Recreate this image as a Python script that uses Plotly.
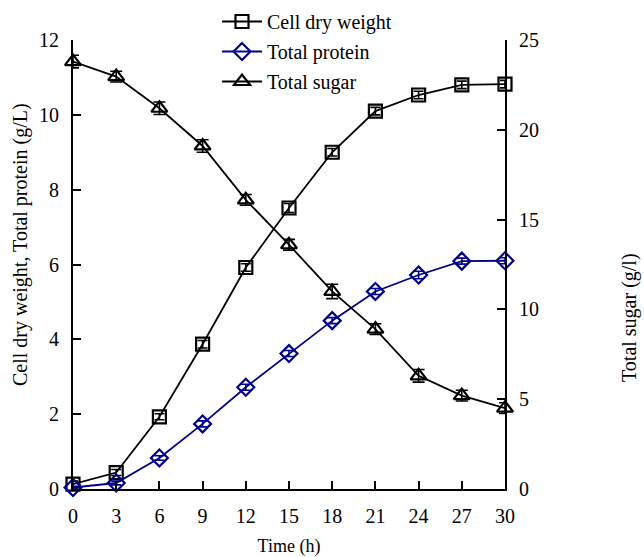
import plotly.graph_objects as go

time_h = [0, 3, 6, 9, 12, 15, 18, 21, 24, 27, 30]
cell_dry_weight = [0.13, 0.44, 1.93, 3.87, 5.92, 7.51, 9.0, 10.1, 10.53, 10.8, 10.82]
total_protein = [0.04, 0.16, 0.83, 1.74, 2.72, 3.62, 4.5, 5.28, 5.72, 6.09, 6.1]
total_sugar = [23.8, 22.96, 21.2, 19.1, 16.1, 13.6, 11.0, 8.9, 6.3, 5.2, 4.5]
cdw_err = [0.08, 0.08, 0.08, 0.1, 0.1, 0.12, 0.1, 0.1, 0.1, 0.1, 0.1]
protein_err = [0.03, 0.05, 0.06, 0.08, 0.08, 0.08, 0.08, 0.08, 0.1, 0.08, 0.08]
sugar_err = [0.35, 0.3, 0.35, 0.35, 0.3, 0.3, 0.4, 0.3, 0.35, 0.3, 0.3]

x_ticks = list(range(0, 31, 3))

font_family = "Liberation Serif, Times New Roman, serif"
navy = "#00008B"

W, H = 644, 557
L, R, T, B = 73, 139, 40, 68
PW, PH = W - L - R, H - T - B

fig = go.Figure()
fig.add_trace(go.Scatter(
    x=time_h, y=cell_dry_weight, name="Cell dry weight", mode="lines+markers",
    line=dict(color="black", width=1.8),
    marker=dict(symbol="square-open", size=13, color="black", line=dict(width=2.2)),
    error_y=dict(type="data", array=cdw_err, color="black", thickness=1.6, width=5),
    cliponaxis=False, legendgroup="a",
))
fig.add_trace(go.Scatter(
    x=time_h, y=total_protein, name="Total protein", mode="lines+markers",
    line=dict(color=navy, width=1.8),
    marker=dict(symbol="diamond-open", size=13, color=navy, line=dict(width=2.2)),
    error_y=dict(type="data", array=protein_err, color=navy, thickness=1.6, width=5),
    cliponaxis=False, legendgroup="b",
))
fig.add_trace(go.Scatter(
    x=time_h, y=total_sugar, name="Total sugar", mode="lines+markers", yaxis="y2",
    line=dict(color="black", width=1.8),
    marker=dict(symbol="triangle-up-open", size=14, color="black", line=dict(width=2.2)),
    error_y=dict(type="data", array=sugar_err, color="black", thickness=1.6, width=6),
    cliponaxis=False, legendgroup="c",
))

axis_common = dict(showgrid=False, zeroline=False, showline=True, linecolor="black",
                   linewidth=2, ticks="inside", ticklen=8, tickwidth=2, tickcolor="black",
                   automargin=False,
                   tickfont=dict(family=font_family, size=20, color="black"))

fig.update_layout(
    width=W, height=H,
    margin=dict(l=L, r=R, t=T, b=B, autoexpand=False),
    paper_bgcolor="white", plot_bgcolor="white",
    font=dict(family=font_family, color="black"),
    xaxis=dict(range=[0, 30], tickvals=x_ticks, ticktext=[str(v) for v in x_ticks],
               ticklabelstandoff=8,
               title=dict(text="Time (h)", font=dict(size=18), standoff=24), **axis_common),
    yaxis=dict(range=[0, 12], dtick=2, ticklabelstandoff=8, **axis_common),
    yaxis2=dict(range=[0, 25], dtick=5, overlaying="y", side="right", ticklabelstandoff=8,
                **axis_common),
    annotations=[
        dict(text="Cell dry weight, Total protein (g/L)", textangle=-90, showarrow=False,
             xref="paper", yref="paper", x=(20 - L) / PW, y=(489 - 245) / PH,
             xanchor="center", yanchor="middle", font=dict(size=20, family=font_family)),
        dict(text="Total sugar (g/l)", textangle=-90, showarrow=False,
             xref="paper", yref="paper", x=(629 - L) / PW, y=(489 - 318) / PH,
             xanchor="center", yanchor="middle", font=dict(size=20, family=font_family)),
    ],
    showlegend=True,
    legend=dict(x=217 / W, y=1 - 2 / H, xref="container", yref="container",
                xanchor="left", yanchor="top", bgcolor="rgba(0,0,0,0)",
                font=dict(family=font_family, size=20, color="black"), tracegroupgap=1,
                itemwidth=40),
)

fig.write_html("out.html", config={"displayModeBar": False},
               post_script="document.body.style.margin='0';")
